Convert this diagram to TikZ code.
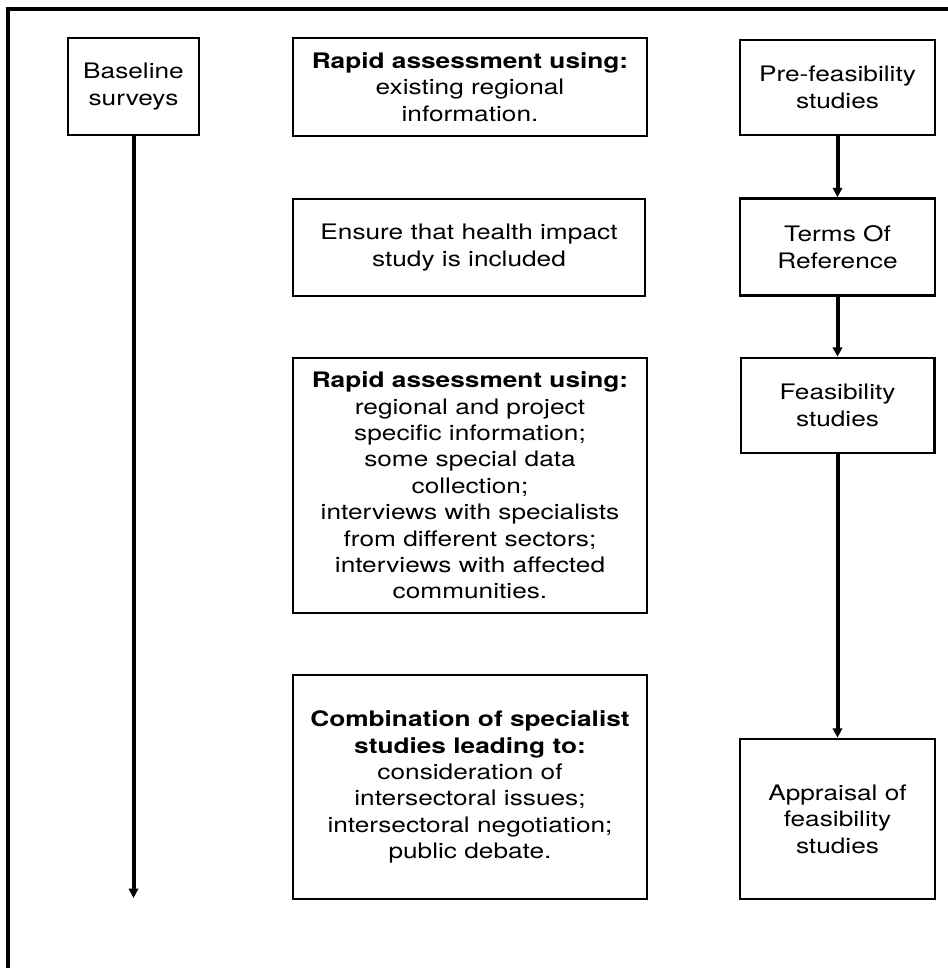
\documentclass[tikz,border=0pt]{standalone}
\usepackage{fontspec}
\setmainfont[FakeStretch=1.23]{TeX Gyre Heros}
\usetikzlibrary{arrows.meta}
\tikzset{
  px/.style={x=0.75pt,y=-0.75pt},
  stagebox/.style={draw,line width=2pt,rectangle,align=center,inner sep=0pt,
    font=\fontsize{16}{19.8}\selectfont},
  flowarrow/.style={line width=3pt,-{Triangle[length=7pt,width=7pt]}},
  frameline/.style={line width=2.4pt}
}
\begin{document}
\begin{tikzpicture}[px]
\useasboundingbox (0,0) rectangle (948,968);
% open frame along the left and top edges
\draw[frameline] (8,968) -- (8,9) -- (948,9);

% left column
\node[stagebox,minimum width=98.25pt,minimum height=72.75pt] (base) at (133.5,86.5)
  {Baseline\\surveys};
\coordinate (baseend) at (133.5,898);

% middle column
\node[stagebox,minimum width=265.5pt,minimum height=73.5pt] (rapidA) at (470,87)
  {\textbf{Rapid assessment using:}\\existing regional\\information.};
\node[stagebox,minimum width=264pt,minimum height=72.75pt] (ensure) at (469,247.5)
  {Ensure that health impact\\study is included};
\node[stagebox,minimum width=265.5pt,minimum height=191.25pt] (rapidB) at (470,485.5)
  {\textbf{Rapid assessment using:}\\regional and project\\specific information;\\some special data\\collection;\\interviews with specialists\\from different sectors;\\interviews with affected\\communities.};
\node[stagebox,minimum width=265.5pt,minimum height=168pt] (combo) at (470,787)
  {\textbf{Combination of specialist}\\\textbf{studies leading to:}\\consideration of\\intersectoral issues;\\intersectoral negotiation;\\public debate.};

% right column
\node[stagebox,minimum width=146.25pt,minimum height=71.25pt] (prefeas) at (837.5,87.5)
  {Pre-feasibility\\studies};
\node[stagebox,minimum width=146.25pt,minimum height=72.75pt] (tor) at (837.5,247)
  {Terms Of\\Reference};
\node[stagebox,minimum width=145pt,minimum height=71.25pt] (feas) at (837.5,405.5)
  {Feasibility\\studies};
\node[stagebox,minimum width=146.25pt,minimum height=120pt] (appraisal) at (837.5,819)
  {Appraisal of\\feasibility\\studies};

% connectors
\draw[flowarrow] (base.south) -- (baseend);
\draw[flowarrow] (prefeas.south) -- (tor.north);
\draw[flowarrow] (tor.south) -- (feas.north);
\draw[flowarrow] (feas.south) -- (appraisal.north);
\end{tikzpicture}
\end{document}
